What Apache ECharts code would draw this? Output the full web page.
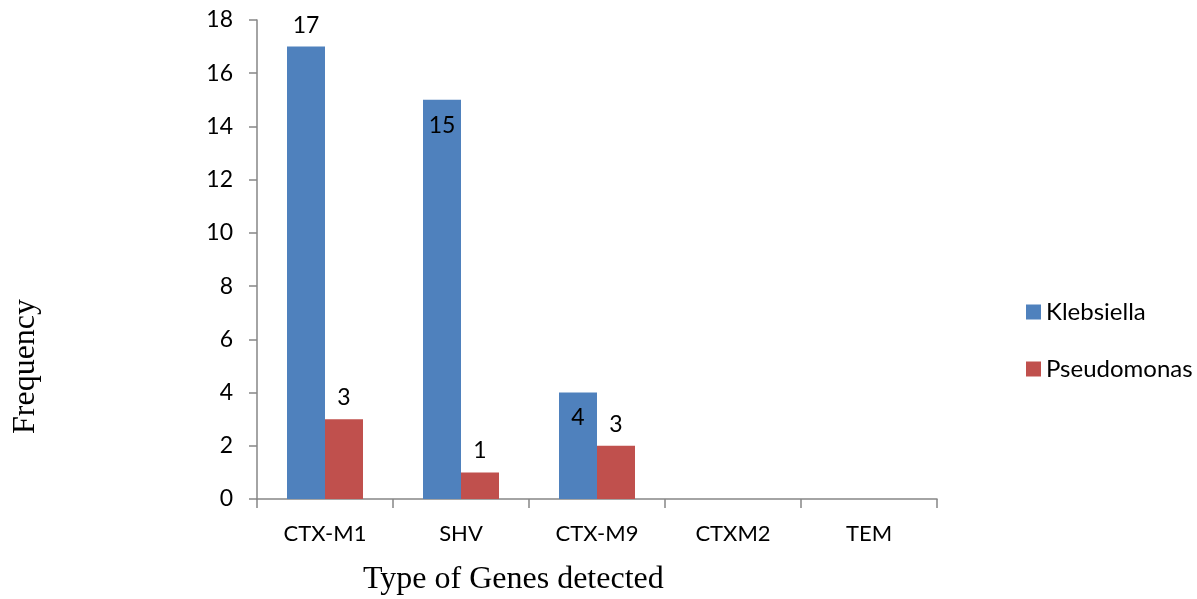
<!DOCTYPE html>
<html>
<head>
<meta charset="utf-8">
<script src="https://cdn.jsdelivr.net/npm/echarts@6/dist/echarts.min.js"></script>
<style>html,body{margin:0;padding:0;background:#fff;}#c{width:1197px;height:599px;}</style>
</head>
<body>
<div id="c"></div>
<script>
const categories = ['CTX-M1', 'SHV', 'CTX-M9', 'CTXM2', 'TEM'];
const klebsiella = [17, 15, 4, 0, 0];
const pseudomonas = [3, 1, 2, 0, 0];
const klebsiellaLabels = ['17', '15', '4', '', ''];
const pseudomonasLabels = ['3', '1', '3', '', ''];
const klebsiellaLabelPos = ['top', 'insideTop', 'insideTop', 'top', 'top'];
const yTicks = [0, 2, 4, 6, 8, 10, 12, 14, 16, 18];

const FONT = 'Lato';
const chart = echarts.init(document.getElementById('c'));

function mk(values, labels, positions) {
  return values.map((v, i) => ({
    value: v,
    label: {
      show: labels[i] !== '',
      position: positions ? positions[i] : 'top',
      formatter: labels[i],
      distance: positions && positions[i] === 'insideTop' ? 14 : 10
    }
  }));
}

chart.setOption({
  animation: false,
  grid: { left: 257, right: 260, top: 20, bottom: 100, containLabel: false },
  legend: {
    orient: 'vertical',
    left: 1021,
    top: 295,
    itemWidth: 15,
    itemHeight: 15,
    itemGap: 33,
    icon: 'rect',
    textStyle: { fontFamily: FONT, fontSize: 24, color: '#000' },
    data: ['Klebsiella', 'Pseudomonas']
  },
  xAxis: {
    type: 'category',
    data: categories,
    axisLine: { lineStyle: { color: '#868686', width: 1.5 } },
    axisTick: { show: true, length: 9, lineStyle: { color: '#868686', width: 1.5 } },
    axisLabel: { fontFamily: FONT, fontSize: 22, color: '#000', margin: 24 }
  },
  yAxis: {
    type: 'value',
    min: yTicks[0],
    max: yTicks[yTicks.length - 1],
    interval: 2,
    splitLine: { show: false },
    axisLine: { show: true, lineStyle: { color: '#868686', width: 1.5 } },
    axisTick: { show: true, length: 8, lineStyle: { color: '#868686', width: 1.5 } },
    axisLabel: { fontFamily: FONT, fontSize: 23, color: '#000', margin: 24 }
  },
  graphic: [
    {
      type: 'text',
      left: 363,
      top: 564,
      style: { text: 'Type of Genes detected', font: '32px "Liberation Serif"', fill: '#000' }
    },
    {
      type: 'text',
      x: 10,
      y: 434,
      rotation: Math.PI / 2,
      style: { text: 'Frequency', font: '32px "Liberation Serif"', fill: '#000', align: 'left', verticalAlign: 'top' }
    }
  ],
  series: [
    {
      name: 'Klebsiella',
      type: 'bar',
      barWidth: 38,
      barGap: '0%',
      itemStyle: { color: '#4F81BD' },
      label: { fontFamily: FONT, fontSize: 23, color: '#000' },
      data: mk(klebsiella, klebsiellaLabels, klebsiellaLabelPos)
    },
    {
      name: 'Pseudomonas',
      type: 'bar',
      barWidth: 38,
      barGap: '0%',
      itemStyle: { color: '#C0504D' },
      label: { fontFamily: FONT, fontSize: 23, color: '#000' },
      data: mk(pseudomonas, pseudomonasLabels, null)
    }
  ]
});
</script>
</body>
</html>
